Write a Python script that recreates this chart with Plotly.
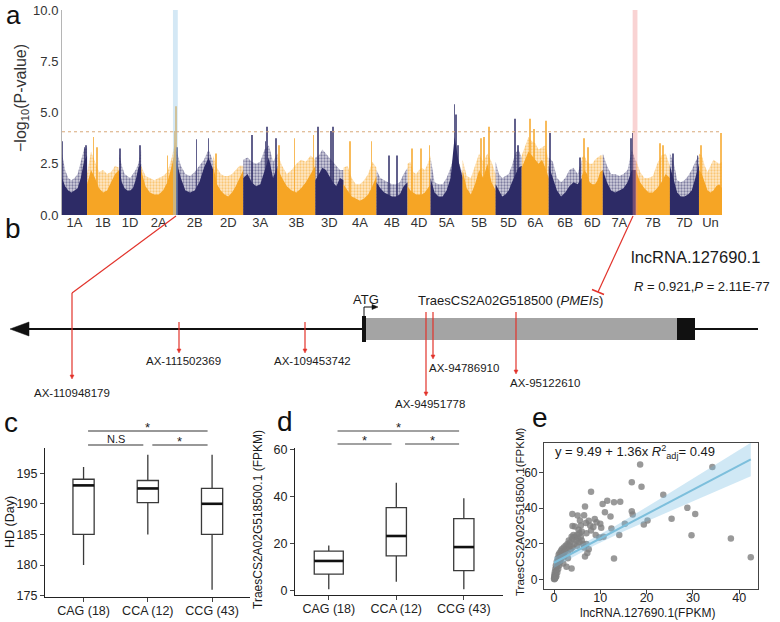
import numpy as np
import plotly.graph_objects as go

W, H = 780, 622
def PX(px): return px / W
def PY(py): return 1 - py / H

# ---------------- Panel a : Manhattan plot (envelopes) ----------------
chroms = ["1A","1B","1D","2A","2B","2D","3A","3B","3D","4A","4B","4D",
          "5A","5B","5D","6A","6B","6D","7A","7B","7D","Un"]
chrom_len = [25, 32, 22, 35, 37, 30, 34, 38, 28, 33, 31, 23, 32, 33, 26, 27, 33, 21, 33, 34, 29, 23]
dense_env = {
 "1A":[1.8,1.4,1.2,1.1,1.2,1.3,1.8,2.6,2.9], "1B":[1.5,2.2,1.8,1.3,1.1,1.2,1.6,2.0,2.2],
 "1D":[2.3,1.6,1.3,1.2,1.2,1.3,1.7,2.3,2.5], "2A":[2.2,1.4,1.1,1.0,1.0,1.2,1.6,2.4,3.4],
 "2B":[2.7,1.8,1.2,1.1,1.2,1.6,2.3,2.8,2.2], "2D":[2.4,1.5,1.2,1.0,0.9,1.1,1.4,1.8,2.2],
 "3A":[1.8,2.0,1.6,1.4,1.5,2.2,2.8,1.8,2.4], "3B":[2.3,1.8,1.4,1.2,1.1,1.3,1.6,2.0,2.4],
 "3D":[1.7,2.0,2.3,2.2,1.9,1.6,1.4,1.8,1.7], "4A":[1.5,1.2,0.9,0.8,0.7,0.8,1.0,1.4,1.9],
 "4B":[1.6,1.3,1.1,1.0,0.9,0.9,1.0,1.4,1.6], "4D":[1.4,1.2,1.1,1.0,1.0,1.0,1.1,1.3,1.5],
 "5A":[1.8,1.1,0.9,0.9,1.2,1.8,3.8,2.6,1.8], "5B":[2.2,1.3,1.0,1.5,2.2,1.8,2.5,1.6,1.2],
 "5D":[1.5,1.2,0.9,1.0,1.2,1.6,2.0,2.3,2.4], "6A":[2.3,2.7,3.1,2.9,2.7,2.5,2.7,2.3,1.8],
 "6B":[2.4,1.8,1.2,0.9,1.1,1.4,1.6,1.5,1.8], "6D":[1.9,2.2,2.0,1.6,1.5,1.5,1.7,2.1,2.2],
 "7A":[2.2,1.6,1.2,1.1,1.2,1.3,1.6,2.2,2.2], "7B":[2.2,1.6,1.3,1.1,1.1,1.3,1.6,2.0,1.8],
 "7D":[2.4,1.7,1.1,0.9,0.9,1.0,1.2,1.8,2.5], "Un":[2.2,2.0,1.6,1.2,1.1,1.2,1.4,1.5,1.3],
}
cloud_env = {
 "1A":[3.0,2.2,1.8,1.7,1.8,2.0,2.6,3.2,3.3], "1B":[2.0,3.1,2.6,2.1,2.2,2.0,2.1,2.4,2.3],
 "1D":[3.0,2.4,2.0,1.9,1.8,2.0,2.2,2.5,3.2], "2A":[2.4,1.9,1.8,1.7,1.8,1.9,2.1,2.8,3.8],
 "2B":[3.2,2.4,2.0,1.9,2.1,2.4,2.7,3.2,2.6], "2D":[2.9,2.3,2.0,1.9,1.9,2.0,2.2,2.4,2.4],
 "3A":[2.7,2.8,2.6,2.5,2.6,3.2,3.4,2.6,3.0], "3B":[3.0,2.4,2.0,2.2,2.5,2.7,2.6,2.9,2.7],
 "3D":[2.8,2.9,3.2,3.0,2.8,2.6,2.4,2.2,2.2], "4A":[2.3,2.4,1.8,1.5,1.5,1.7,2.0,2.6,2.3],
 "4B":[2.2,1.8,1.7,1.6,1.5,1.5,1.6,2.0,2.3], "4D":[2.5,2.6,2.1,2.0,2.2,2.3,2.2,2.5,2.9],
 "5A":[2.8,1.6,1.5,1.5,1.8,2.3,3.0,2.6,2.0], "5B":[2.7,1.9,1.8,2.4,3.0,2.6,3.0,2.6,2.0],
 "5D":[2.6,2.0,1.8,1.9,2.0,2.4,3.0,3.2,2.8], "6A":[2.9,3.4,3.8,3.6,3.5,3.2,3.3,3.4,2.6],
 "6B":[2.8,2.6,1.8,1.6,1.8,2.2,2.3,2.0,2.7], "6D":[2.8,2.9,2.6,2.5,2.5,2.7,2.8,2.9,2.9],
 "7A":[3.0,2.4,2.0,2.0,1.9,2.0,2.2,3.2,2.6], "7B":[2.7,2.1,1.8,1.8,1.9,2.5,2.9,3.0,2.4],
 "7D":[3.0,2.6,1.7,1.6,1.7,1.9,2.2,2.6,2.9], "Un":[3.0,2.9,2.4,2.1,2.4,2.7,2.6,2.5,2.6],
}
# isolated top SNPs: (chromosome, relative position, -log10 P)
peaks = [("1A",0.0,3.6),("1A",0.9,3.3),("1A",0.97,3.4),("1B",0.2,3.8),("1B",0.3,3.3),
         ("1D",0.03,3.25),("1D",0.95,3.4),("2A",0.75,2.9),("2A",0.97,4.1),("2A",0.99,5.3),
         ("2B",0.02,3.3),("2B",0.55,3.7),("2B",0.87,3.75),("2D",0.1,3.0),
         ("3A",0.25,3.9),("3A",0.65,3.6),("3A",0.7,4.3),("3A",0.95,3.75),
         ("3B",0.05,3.4),("3B",0.45,3.75),("3B",0.95,3.9),("3D",0.1,4.3),("3D",0.55,4.1),("3D",0.62,4.3),
         ("4A",0.2,3.6),("4A",0.85,3.6),("4B",0.4,2.9),("4B",0.65,2.9),
         ("4D",0.2,3.25),("4D",0.6,3.25),("4D",0.95,3.4),("5A",0.75,5.4),("5A",0.8,4.9),("5A",0.85,3.4),
         ("5B",0.55,3.75),("5B",0.65,3.8),("5B",0.8,4.3),("5D",0.75,4.7),("5D",0.85,3.4),
         ("6A",0.3,4.7),("6A",0.45,4.2),("6A",0.9,4.6),("6B",0.05,4.0),("6B",0.95,2.8),
         ("6D",0.1,3.75),("6D",0.3,3.3),("7A",0.85,3.75),("7A",0.9,4.0),("7B",0.7,3.5),("7B",0.8,3.4),
         ("7D",0.1,3.0),("7D",0.95,2.9),("Un",0.1,3.4),("Un",0.95,4.0)]
threshold = 4.06
a_yticks = [0, 2.5, 5, 7.5, 10]
highlight = {"2A": "rgba(160,205,232,0.45)", "7A": "rgba(240,140,140,0.38)"}

# ---------------- Panel c / d : box plots ----------------
groups = ["CAG (18)", "CCA (12)", "CCG (43)"]
c_q1 = [185.0, 190.2, 185.0]; c_med = [193.0, 192.5, 190.0]; c_q3 = [194.0, 193.8, 192.5]
c_lo = [180.0, 185.0, 176.0]; c_hi = [196.0, 198.0, 198.0]
d_q1 = [7.0, 14.8, 8.5]; d_med = [12.6, 23.2, 18.5]; d_q3 = [16.8, 35.2, 30.6]
d_lo = [0.6, 3.8, 0.6]; d_hi = [19.2, 45.8, 39.2]
c_sig = [(0, 2, "*"), (0, 1, "N.S"), (1, 2, "*")]
d_sig = [(0, 2, "*"), (0, 1, "*"), (1, 2, "*")]

# ---------------- Panel e : scatter ----------------
e_lnc = [0.0,0.05,0.1,0.1,0.15,0.2,0.2,0.25,0.3,0.3,0.35,0.4,0.4,0.5,0.5,0.6,0.6,0.7,0.8,0.8,
         0.9,1.0,1.0,1.1,1.2,1.3,1.4,1.5,1.6,1.7,1.8,2.0,2.1,2.2,2.4,2.5,2.7,2.9,3.0,3.2,
         3.5,3.8,4.0,4.2,4.5,4.8,5.0,5.2,5.5,5.8,6.0,6.3,3.3,3.6,4.0,4.4,5.0,5.5,6.5,7.0,
         7.5,2.7,3.8,6.7,2.0,3.0,7.2,
         3.96,5.1,5.6,5.8,4.5,6.9,7.8,8.5,9.2,10.0,10.2,12.4,6.7,8.0,10.5,11.0,11.5,12.2,
         12.96,14.3,14.1,9.8,10.7,12.96,15.3,16.8,17.0,16.8,18.6,18.9,19.4,20.2,23.6,25.4,
         28.8,29.7,30.5,34.2,38.2,42.5,6.0,7.0,8.0,5.3,9.0,4.0,6.5,7.5,8.8]
e_traes = [0.5,1.5,0.2,3.0,2.0,1.0,4.5,0.8,2.5,6.0,1.5,3.5,8.0,5.0,2.0,7.0,10.0,4.0,9.0,12.0,
           6.0,11.0,14.0,8.0,15.0,10.0,13.0,16.0,12.0,17.0,14.0,15.0,18.0,13.0,16.0,19.0,17.0,20.0,15.0,22.0,
           21.0,24.0,23.0,25.0,24.0,22.0,25.0,23.0,26.0,24.0,22.0,20.0,19.0,17.0,18.0,20.0,19.0,21.0,18.0,20.0,
           17.0,7.2,6.3,13.0,9.0,12.0,15.0,
           36.8,35.9,33.1,30.4,29.8,31.7,30.4,29.5,32.2,31.3,29.1,28.6,40.9,49.2,42.4,37.7,44.2,35.4,
           43.3,43.6,25.0,23.6,24.0,11.8,31.3,38.3,36.5,54.5,64.5,52.0,30.9,33.1,47.5,34.1,
           40.2,24.9,36.8,63.0,23.0,12.5,27.0,26.0,27.5,28.0,25.0,30.0,36.0,33.0,34.0]
e_intercept, e_slope = 9.49, 1.36

# ======================================================================================
navy, orange = "#2D2B66", "#F6A525"
navy_l, orange_l = "rgba(45,43,102,0.22)", "rgba(246,165,37,0.25)"
FONT = "Arial, Liberation Sans, Helvetica, sans-serif"
fig = go.Figure()

starts = np.concatenate([[0], np.cumsum(chrom_len)[:-1]])
total = float(np.sum(chrom_len))
for i, c in enumerate(chroms):
    col = navy if i % 2 == 0 else orange
    colL = navy_l if i % 2 == 0 else orange_l
    xs = starts[i] + chrom_len[i] * np.linspace(0, 1, len(dense_env[c]))
    fig.add_trace(go.Scatter(x=xs, y=cloud_env[c], mode="lines", line=dict(width=0),
                             fill="tozeroy", fillcolor=colL,
                             fillpattern=dict(shape=".", fgcolor=col, bgcolor=colL,
                                              size=3, solidity=0.45),
                             xaxis="x", yaxis="y", hoverinfo="skip"))
    fig.add_trace(go.Scatter(x=xs, y=dense_env[c], mode="lines", line=dict(width=0),
                             fill="tozeroy", fillcolor=col, xaxis="x", yaxis="y", hoverinfo="skip"))
pk_x = [starts[chroms.index(c)] + f * chrom_len[chroms.index(c)] for c, f, v in peaks]
pk_y = [v for c, f, v in peaks]
pk_c = [navy if chroms.index(c) % 2 == 0 else orange for c, f, v in peaks]
fig.add_trace(go.Bar(x=pk_x, y=pk_y, width=0.8, marker=dict(color=pk_c, line=dict(width=0)),
                     opacity=0.75, xaxis="x", yaxis="y", hoverinfo="skip"))

shapes = []
for c, colr in highlight.items():
    k = chroms.index(c)
    e_ = starts[k] + chrom_len[k]
    shapes.append(dict(type="rect", xref="x", yref="paper", x0=e_ - 3.2, x1=e_ + 1.6,
                       y0=PY(215), y1=PY(10), fillcolor=colr, line=dict(width=0), layer="above"))
shapes.append(dict(type="line", xref="x", yref="y", x0=0, x1=total, y0=threshold, y1=threshold,
                   line=dict(color="#D8A878", width=1, dash="dot")))

# box plots c, d
def add_boxes(q1, med, q3, lo, hi, widths, ax, ay):
    for i in range(len(groups)):
        fig.add_trace(go.Box(x=[i], q1=[q1[i]], median=[med[i]], q3=[q3[i]],
                             lowerfence=[lo[i]], upperfence=[hi[i]], width=widths[i],
                             fillcolor="white", line=dict(color="#3A3A3A", width=1.3),
                             whiskerwidth=0, boxpoints=False, xaxis=ax, yaxis=ay, hoverinfo="skip"))
        fig.add_trace(go.Scatter(x=[i - widths[i] / 2, i + widths[i] / 2], y=[med[i], med[i]],
                                 mode="lines", line=dict(color="#111", width=2.6),
                                 xaxis=ax, yaxis=ay, hoverinfo="skip"))
add_boxes(c_q1, c_med, c_q3, c_lo, c_hi, [0.33, 0.33, 0.33], "x2", "y2")
add_boxes(d_q1, d_med, d_q3, d_lo, d_hi, [0.43, 0.30, 0.30], "x3", "y3")

# scatter e
ex, ey = np.array(e_lnc), np.array(e_traes)
n = len(ex)
res = ey - (e_intercept + e_slope * ex)
s = np.sqrt(np.sum(res ** 2) / (n - 2))
xbar = ex.mean(); sxx = np.sum((ex - xbar) ** 2)
xg = np.linspace(ex.min(), ex.max(), 120)
fit = e_intercept + e_slope * xg
se = s * np.sqrt(1 / n + (xg - xbar) ** 2 / sxx)
fig.add_trace(go.Scatter(x=ex, y=ey, mode="markers",
                         marker=dict(color="#808080", size=6.5, opacity=0.8, line=dict(width=0)),
                         xaxis="x4", yaxis="y4", hoverinfo="skip"))
fig.add_trace(go.Scatter(x=np.concatenate([xg, xg[::-1]]),
                         y=np.concatenate([fit + 1.98 * se, (fit - 1.98 * se)[::-1]]),
                         fill="toself", fillcolor="rgba(120,190,225,0.35)", line=dict(width=0),
                         mode="lines", xaxis="x4", yaxis="y4", hoverinfo="skip"))
fig.add_trace(go.Scatter(x=xg, y=fit, mode="lines", line=dict(color="#7DBFDC", width=2),
                         xaxis="x4", yaxis="y4", hoverinfo="skip"))

ann = []
def text(x, y, t, size=12, **kw):
    d = dict(x=PX(x), y=PY(y), xref="paper", yref="paper", text=t, showarrow=False,
             xanchor=kw.pop("xanchor", "center"), yanchor=kw.pop("yanchor", "middle"),
             font=dict(size=size, color=kw.pop("color", "#1a1a1a"), family=FONT))
    d.update(kw)
    ann.append(d)

# panel letters
for L, x, y, sz in [("a", 13, 15, 26), ("b", 13, 228, 28), ("c", 11, 422, 28),
                    ("d", 285, 421, 28), ("e", 540, 418, 28)]:
    text(x, y, L, size=sz, color="#111")

text(22, 98, "−log<sub>10</sub>(P-value)", size=16, textangle=-90, color="#333")

# significance bars (in data x units)
def sig(sigs, ax, levels, texts_y, x0off, lcol):
    for (a, b, t), ly, ty in zip(sigs, levels, texts_y):
        shapes.append(dict(type="line", xref=ax, yref="paper", x0=a + x0off, x1=b - 0.07,
                           y0=PY(ly), y1=PY(ly), line=dict(color=lcol, width=1.2)))
        ann.append(dict(x=(a + b) / 2 + (x0off - 0.07) / 2, y=PY(ty), xref=ax, yref="paper", text=t,
                        xanchor="center", yanchor="middle", showarrow=False,
                        font=dict(size=13 if t == "*" else 11, color="#222", family=FONT)))
sig(c_sig, "x2", [431, 445, 445], [427, 439, 441], 0.07, "#333")
sig(d_sig, "x3", [431, 444, 444], [427, 440, 440], 0.13, "#444")

text(10, 522, "HD (Day)", size=12.5, textangle=-90)
text(258, 520, "TraesCS2A02G518500.1 (FPKM)", size=12, textangle=-90)
text(520, 512, "TraesCS2A02G518500.1(FPKM)", size=11.5, textangle=-90)
text(647, 613, "lncRNA.127690.1(FPKM)", size=12)
text(553, 452, "y = 9.49 + 1.36x <i>R</i><sup>2</sup><sub>adj</sub>= 0.49", size=13, xanchor="left")

# ---------------- Panel b : gene schematic ----------------
snp_names = ["AX-110948179", "AX-111502369", "AX-109453742", "AX-94951778", "AX-94786910", "AX-95122610"]
snp_x = [72, 179, 305, 426, 433, 516]
snp_top = [293, 322, 322, 312, 312, 312]
snp_bot = [378, 352, 352, 395, 358, 373]
lab_x = [72, 183, 312, 430, 464, 545]
lab_y = [393, 361, 361, 404, 368, 383]
RED = "#E2332B"

def line(x0, y0, x1, y1, col, w):
    shapes.append(dict(type="line", xref="paper", yref="paper", x0=PX(x0), y0=PY(y0),
                       x1=PX(x1), y1=PY(y1), line=dict(color=col, width=w)))
def poly(pts, col):
    p = "M " + " L ".join(f"{PX(a)},{PY(b)}" for a, b in pts) + " Z"
    shapes.append(dict(type="path", xref="paper", yref="paper", path=p, fillcolor=col,
                       line=dict(color=col, width=0.5)))
def rect(x0, y0, x1, y1, col):
    shapes.append(dict(type="rect", xref="paper", yref="paper", x0=PX(x0), y0=PY(y0), x1=PX(x1),
                       y1=PY(y1), fillcolor=col, line=dict(width=0)))

line(27, 329, 758, 329, "#111", 2)
poly([(10, 329), (29, 322), (29, 336)], "#111")
rect(363, 318, 677, 340, "#A4A4A4")
rect(362, 316, 366, 342, "#111")
rect(677, 318, 695, 340, "#111")
line(364, 318, 364, 307, "#111", 1)
line(364, 307, 373, 307, "#111", 1)
poly([(378, 307), (372, 304.5), (372, 309.5)], "#111")
text(366, 299, "ATG", size=13)
text(510, 301, "TraesCS2A02G518500 (<i>PMEIs</i>)", size=13)
text(695, 257, "lncRNA.127690.1", size=16.5)
text(702, 287, "<i>R</i> = 0.921,<i>P</i> = 2.11E-77", size=13)

for nm, x, t, b, lx, ly in zip(snp_names, snp_x, snp_top, snp_bot, lab_x, lab_y):
    line(x, t, x, b - 2, RED, 1.2)
    poly([(x, b + 1), (x - 2, b - 3), (x + 2, b - 3)], RED)
    text(lx, ly, nm, size=11.5)
# connectors from Manhattan peaks to schematic
line(176, 216, 72, 293, RED, 1.2)
line(633, 216, 598, 292, RED, 1.2)
line(592, 289.5, 604, 294.5, RED, 1.6)

# ---------------- layout ----------------
centers = starts + np.array(chrom_len) / 2
axis_common = dict(showgrid=False, zeroline=False, automargin=False)
box_x = dict(showline=True, linecolor="#222", linewidth=1.2, ticks="outside", ticklen=4,
             tickfont=dict(size=12.5, color="#222"), ticklabelstandoff=-2)
box_y = dict(showline=True, linecolor="#222", linewidth=1.2, ticks="outside", ticklen=4,
             tickfont=dict(size=12.5, color="#222"))
fig.update_layout(
    width=W, height=H, margin=dict(l=0, r=0, t=0, b=0, pad=0), autosize=False,
    paper_bgcolor="white", plot_bgcolor="rgba(0,0,0,0)", showlegend=False,
    font=dict(family=FONT, color="#222"), barmode="overlay",
    shapes=shapes, annotations=ann,
    xaxis=dict(domain=[PX(62), PX(722)], range=[0, total], tickvals=centers, ticktext=chroms,
               showline=False, ticks="", tickfont=dict(size=13, color="#333"), ticklabelstandoff=-2,
               anchor="y", **axis_common),
    yaxis=dict(domain=[PY(215), PY(10)], range=[0, 10], tickvals=a_yticks,
               ticktext=[f"{v:.1f}" for v in a_yticks], showline=True, linecolor="#B5B5B5",
               linewidth=1, ticks="", tickfont=dict(size=13, color="#333"), anchor="x", **axis_common),
    xaxis2=dict(domain=[PX(45), PX(250)], range=[-0.6, 2.59], tickvals=list(range(3)), ticktext=groups,
                anchor="y2", **box_x, **axis_common),
    yaxis2=dict(domain=[PY(597), PY(448)], range=[174.8, 199.1], tickvals=[175, 180, 185, 190, 195],
                anchor="x2", **box_y, **axis_common),
    xaxis3=dict(domain=[PX(295), PX(503)], range=[-0.5, 2.58], tickvals=list(range(3)), ticktext=groups,
                anchor="y3", **box_x, **axis_common),
    yaxis3=dict(domain=[PY(595), PY(448)], range=[-1.85, 60.55], tickvals=[0, 20, 40, 60],
                anchor="x3", **box_y, **axis_common),
    xaxis4=dict(domain=[PX(544), PX(758)], range=[-2.16, 44.06], tickvals=[0, 10, 20, 30, 40],
                showline=True, mirror=True, linecolor="#444", linewidth=1.2, ticks="outside", ticklen=4,
                tickfont=dict(size=12.5, color="#222"), ticklabelstandoff=-7, anchor="y4", **axis_common),
    yaxis4=dict(domain=[PY(589), PY(443)], range=[-5.2, 76.5], tickvals=[0, 20, 40, 60],
                showline=True, mirror=True, linecolor="#444", linewidth=1.2, ticks="outside", ticklen=4,
                tickfont=dict(size=12, color="#222"), ticklabelstandoff=-1, anchor="x4", **axis_common),
)
fig.write_html("out.html", config={"displayModeBar": False},
               post_script="document.body.style.margin='0px';")
